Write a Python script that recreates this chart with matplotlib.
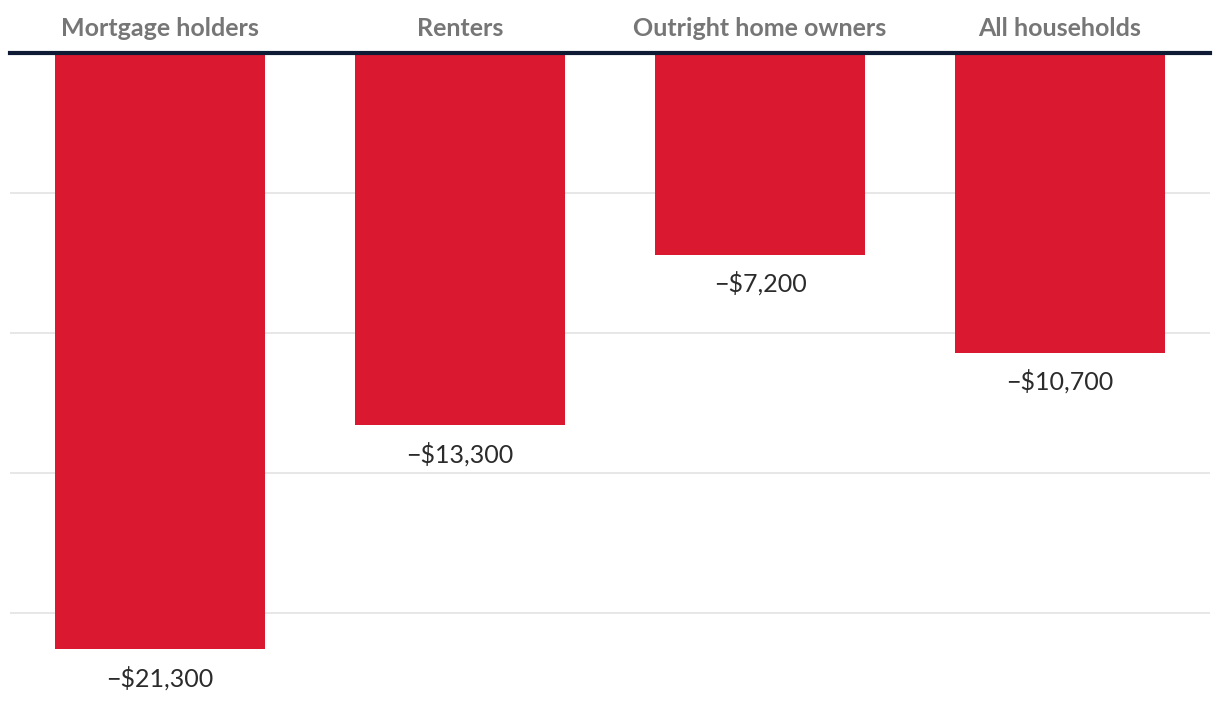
import matplotlib.pyplot as plt
from matplotlib.ticker import MultipleLocator

categories = ["Mortgage holders", "Renters", "Outright home owners", "All households"]
values = [-21300, -13300, -7200, -10700]
labels = ["\u2212$21,300", "\u2212$13,300", "\u2212$7,200", "\u2212$10,700"]

plt.rcParams['font.family'] = ['Lato', 'DejaVu Sans']

fig = plt.figure(figsize=(12.2, 7.14), dpi=100)
ax = fig.add_axes([10 / 1220, 1 - 699 / 714, 1200 / 1220, 646 / 714])

x = range(len(categories))
ax.bar(x, values, width=0.7, color="#da1930", zorder=2)

ax.set_xlim(-0.5, len(categories) - 0.5)
ax.set_ylim(-23070, 0)
ax.yaxis.set_major_locator(MultipleLocator(5000))
ax.grid(axis="y", color="#e3e3e3", linewidth=1.2, zorder=0)
ax.axhline(0, color="#0f1a35", linewidth=3, zorder=3, clip_on=False)

for s in ax.spines.values():
    s.set_visible(False)
ax.tick_params(left=False, bottom=False, labelleft=False, labelbottom=False)

for i, (v, lab) in enumerate(zip(values, labels)):
    ax.annotate(lab, (i, v), xytext=(0, -29), textcoords="offset pixels",
                ha="center", va="center", fontsize=18, color="#2b2b2b")

for i, c in enumerate(categories):
    ax.annotate(c, (i, 0), xytext=(0, 25), textcoords="offset pixels",
                ha="center", va="center", fontsize=18, fontweight="bold",
                color="#767676", annotation_clip=False)

fig.savefig("out.png", dpi=100)
